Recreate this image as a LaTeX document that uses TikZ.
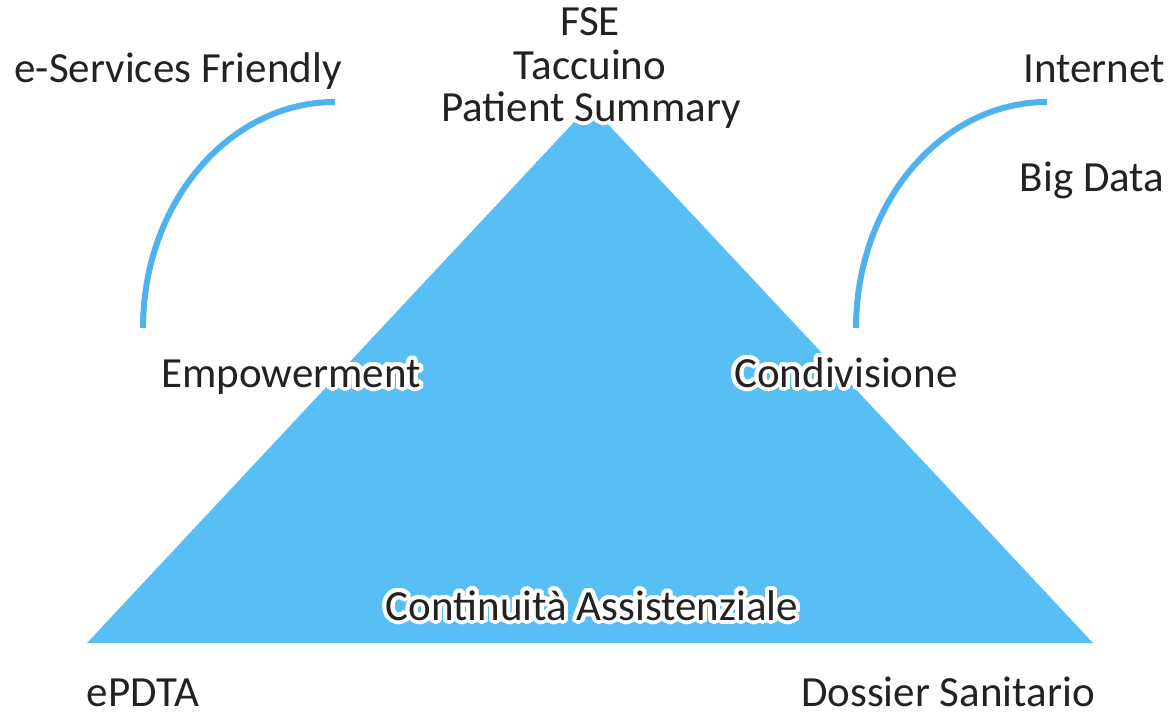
\documentclass[tikz,border=0pt]{standalone}
\usepackage{fontspec}
\setmainfont{Carlito}
\usepackage{contour}
\contourlength{4pt}
\contournumber{24}
\definecolor{triblue}{HTML}{57BFF3}
\definecolor{arcblue}{HTML}{4FB2EF}
\definecolor{txt}{HTML}{222222}
\tikzset{
  lbl/.style={anchor=base, inner sep=0pt, text=txt, font=\fontsize{43}{45}\selectfont},
  arcline/.style={draw=arcblue, line width=6pt},
  tri/.style={fill=triblue}
}
\newcommand{\halo}[1]{\contour{white}{#1}}
\begin{document}
\begin{tikzpicture}[x=1pt,y=-1pt]
\useasboundingbox (0,0) rectangle (1170,715);
% triangle
\fill[tri] (590,105) -- (1093,643) -- (87,643) -- cycle;
% arcs
\draw[arcline] (335,102) arc[start angle=270, end angle=180, x radius=192, y radius=226];
\draw[arcline] (1047,102) arc[start angle=270, end angle=180, x radius=191, y radius=226];
% labels
\node[lbl] (fse) at (590,35) {FSE};
\node[lbl] (tacc) at (590,79) {Taccuino};
\node[lbl] (ps) at (591,121) {\halo{Patient Summary}};
\node[lbl] (esf) at (178,82) {e-Services Friendly};
\node[lbl] (inet) at (1094,82) {Internet};
\node[lbl] (bigd) at (1092,191) {Big Data};
\node[lbl] (emp) at (291,387) {\halo{Empowerment}};
\node[lbl] (cond) at (846,387) {\halo{Condivisione}};
\node[lbl] (cont) at (592,620) {\halo{Continuità Assistenziale}};
\node[lbl] (epdta) at (143,706) {ePDTA};
\node[lbl] (doss) at (948,706) {Dossier Sanitario};
\end{tikzpicture}
\end{document}
